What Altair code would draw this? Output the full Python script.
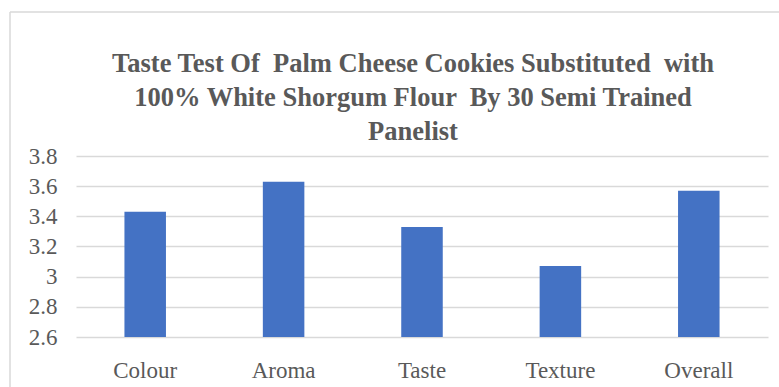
import altair as alt
import pandas as pd

categories = ["Colour", "Aroma", "Taste", "Texture", "Overall"]
values = [3.43, 3.63, 3.33, 3.07, 3.57]
y_ticks = [2.6, 2.8, 3.0, 3.2, 3.4, 3.6, 3.8]
title_lines = [
    "Taste Test Of \u00a0Palm Cheese Cookies Substituted \u00a0with",
    "100% White Shorgum Flour \u00a0By 30 Semi Trained",
    "Panelist",
]

df = pd.DataFrame({"category": categories, "value": values})

GRAY = "#595959"
FONT = "Liberation Serif"

bars = alt.Chart(df).mark_bar(color="#4472C4").encode(
    x=alt.X(
        "category:N",
        sort=categories,
        scale=alt.Scale(paddingInner=0.7, paddingOuter=0.35),
        axis=alt.Axis(
            title=None, labelAngle=0, domain=False, ticks=False,
            labelFont=FONT, labelFontSize=23, labelColor=GRAY, labelPadding=22,
        ),
    ),
    y=alt.Y(
        "value:Q",
        scale=alt.Scale(domain=[2.6, 3.8], zero=False, nice=False),
        axis=alt.Axis(
            title=None, values=y_ticks, domain=False, ticks=False,
            labelFont=FONT, labelFontSize=23, labelColor=GRAY, labelPadding=19,
            gridColor="#d9d9d9", gridWidth=1.5,
            labelExpr="datum.value == 3 ? '3' : format(datum.value, '.1f')",
        ),
    ),
    y2=alt.datum(2.6),
)

one = pd.DataFrame({"a": [0]})

border_left = alt.Chart(one).mark_rule(
    color="#d9d9d9", strokeWidth=1.5, clip=False
).encode(x=alt.value(-66), y=alt.value(-144), y2=alt.value(300))

border_top = alt.Chart(one).mark_rule(
    color="#d9d9d9", strokeWidth=1.5, clip=False
).encode(x=alt.value(-66), x2=alt.value(760), y=alt.value(-144))

title_layers = []
for i, line in enumerate(title_lines):
    title_layers.append(
        alt.Chart(one).mark_text(
            text=line, font=FONT, fontSize=26.5, fontWeight="bold", color=GRAY,
            align="center", baseline="alphabetic", clip=False,
        ).encode(x=alt.value(337), y=alt.value(-84 + 34 * i))
    )

chart = alt.layer(border_left, border_top, bars, *title_layers).properties(
    width=692,
    height=181,
    autosize=alt.AutoSizeParams(type="none"),
    padding={"left": 76, "top": 156, "right": 11, "bottom": 50},
).configure_view(stroke=None)

chart.save("out.html", embed_options={"renderer": "svg", "actions": False})
